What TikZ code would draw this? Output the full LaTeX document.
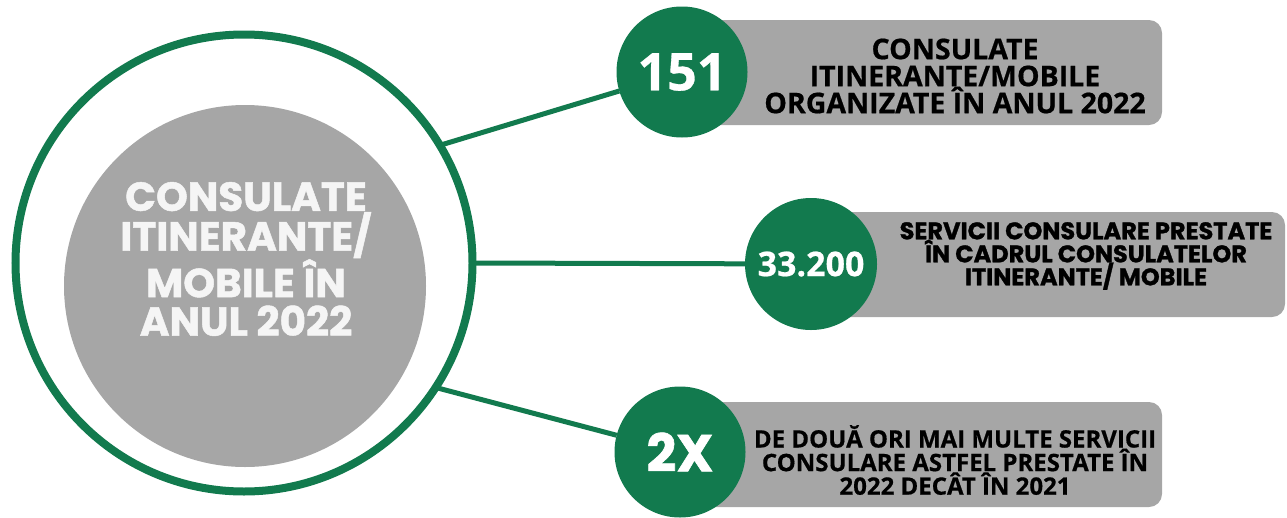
\documentclass[tikz,border=0pt]{standalone}
\usepackage{fontspec}
\newfontfamily\pop{Poppins}
\newfontfamily\popheavy{Poppins}[FakeBold=1.2]
\newfontfamily\osans{Open Sans}
\newfontfamily\osheavy{Open Sans}[FakeBold=0.6]
\definecolor{dgreen}{RGB}{18,122,78}
\definecolor{lgray}{RGB}{166,166,166}
\definecolor{offwhite}{RGB}{245,245,245}
\tikzset{
  infobox/.style={rectangle, rounded corners=13pt, fill=lgray, draw=none, inner sep=0pt, outer sep=0pt},
  numdisc/.style={circle, fill=dgreen, draw=none, inner sep=0pt, outer sep=0pt, text=white},
  boxtext/.style={align=center, text=black, inner sep=0pt},
  link/.style={draw=dgreen, line width=5pt},
}
\begin{document}
\begin{tikzpicture}[x=1pt,y=-1pt]
\useasboundingbox (0,0) rectangle (1287,517);
% boxes
\node[infobox, minimum width=462pt, minimum height=105pt] (b1) at (931,72.5) {};
\node[infobox, minimum width=455pt, minimum height=105pt] (b2) at (1057.5,264.5) {};
\node[infobox, minimum width=462pt, minimum height=105pt] (b3) at (931,454.5) {};
% box texts
\node[boxtext, font={\osheavy\bfseries\fontsize{28.5}{27}\selectfont}] (t1) at (955,76)
  {CONSULATE\\ITINERANTE/MOBILE\\ORGANIZATE ÎN ANUL 2022};
\node[boxtext, font={\popheavy\bfseries\fontsize{24}{23}\selectfont}] (t2) at (1086,256)
  {SERVICII CONSULARE PRESTATE\\ÎN CADRUL CONSULATELOR\\ITINERANTE/ MOBILE};
\node[boxtext, font={\osheavy\bfseries\fontsize{24}{21}\selectfont}] (t3) at (955,460)
  {DE DOUĂ ORI MAI MULTE SERVICII\\CONSULARE ASTFEL PRESTATE ÎN\\2022 DECÂT ÎN 2021};
% hub
\node[circle, fill=lgray, draw=none, minimum size=362pt, inner sep=0pt] (hub) at (245,286) {};
\node[circle, draw=dgreen, line width=8pt, minimum size=457pt, inner sep=0pt, outer sep=0pt] (ring) at (244,263) {};
\node[align=center, text=offwhite, inner sep=0pt, font={\popheavy\bfseries\fontsize{40.5}{38.5}\selectfont}] (hubtext) at (246,259)
  {CONSULATE\\ITINERANTE/\\MOBILE ÎN\\ANUL 2022};
% number discs
\node[numdisc, minimum size=131pt, font={\osheavy\bfseries\fontsize{52}{52}\selectfont}] (c1) at (682,72) {151};
\node[numdisc, minimum size=132pt, font={\osheavy\bfseries\fontsize{34}{34}\selectfont}] (c2) at (811,264) {33.200};
\node[numdisc, minimum size=131pt, font={\popheavy\bfseries\fontsize{52}{52}\selectfont}] (c3) at (680,452) {2X};
% connectors
\draw[link] (ring.31) -- (c1);
\draw[link] (ring.east) -- (c2);
\draw[link] (ring.-33) -- (c3);
\end{tikzpicture}
\end{document}
